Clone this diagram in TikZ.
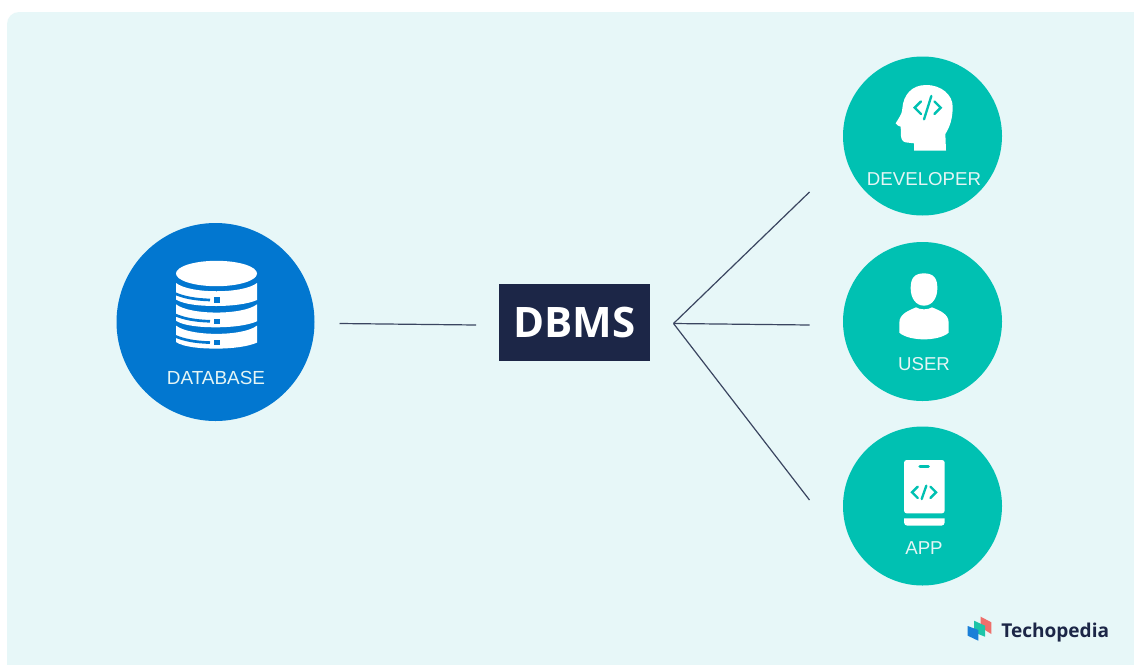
\documentclass[tikz,border=0pt]{standalone}
\usepackage{fontspec}
\setmainfont{Liberation Sans}
\newfontfamily\logofont{Open Sans}
\definecolor{bgc}{HTML}{E7F7F8}
\definecolor{bluec}{HTML}{0277D0}
\definecolor{tealc}{HTML}{00C1B2}
\definecolor{navyc}{HTML}{1C2647}
\definecolor{linec}{HTML}{3A4560}
\definecolor{labc}{HTML}{E4F5F5}
\definecolor{logored}{HTML}{EE6F6B}
\definecolor{logoteal}{HTML}{1CC4A8}
\definecolor{logoblue}{HTML}{1A7FD8}
\tikzset{
  disc/.style={circle,inner sep=0pt,minimum size=#1*0.75pt,draw=none},
  dbdisc/.style={disc=198,fill=bluec},
  usedisc/.style={disc=159,fill=tealc},
  lab/.style={text=labc,font=\fontsize{14pt}{15pt}\selectfont,inner sep=0pt,anchor=base},
  link/.style={draw=linec,line width=0.9pt},
  codemark/.style={draw=tealc,line width=1.75pt,line cap=round,line join=miter},
}
% centre x, centre y, inner half width, chevron half height, slash half height, slash half run
\newcommand{\codeglyph}[6]{%
  \draw[codemark] (#1-#3,#2-#4) -- (#1-#3-#4,#2) -- (#1-#3,#2+#4);
  \draw[codemark] (#1+#3,#2-#4) -- (#1+#3+#4,#2) -- (#1+#3,#2+#4);
  \draw[codemark] (#1+#6,#2-#5) -- (#1-#6,#2+#5);
}
\newcommand{\dbband}[1]{%
  \begin{scope}[yshift=#1*0.75pt*-1]
  \fill[white] (176,283) .. controls (190,294) and (243,294) .. (257,283) -- (257,300)
     .. controls (248,304) and (232,306) .. (216.5,306) .. controls (200,306) and (184,304.5) .. (176,299.5) -- cycle;
  \draw[bluec,line width=2pt] (175,293.5) .. controls (184,297.5) and (195,299.5) .. (210,300);
  \fill[bluec] (214,297.3) rectangle (219.5,302.7);
  \end{scope}
}
\begin{document}
\begin{tikzpicture}[x=0.75pt,y=-0.75pt]
\useasboundingbox (0,0) rectangle (1134,664);
\fill[white] (0,0) rectangle (1134,664);
\fill[bgc,rounded corners=9pt] (7,680) rectangle (1160,12);

\node[dbdisc] (db) at (215.5,322) {};
\node[usedisc] (dev) at (922.5,136) {};
\node[usedisc] (usr) at (922.5,321.5) {};
\node[usedisc] (app) at (922.5,506) {};
\node[fill=navyc,minimum width=151*0.75pt,minimum height=77*0.75pt,inner sep=0pt,text=white,font=\logofont\bfseries\fontsize{31.5pt}{33pt}\selectfont] (dbms) at (574.5,322.5) {DBMS};

% connectors
\coordinate (dbL) at (339.5,323.5);
\coordinate (dbR) at (476,325);
\coordinate (hub) at (673.5,323.5);
\coordinate (tDev) at (809.5,192);
\coordinate (tUsr) at (809.5,325);
\coordinate (tApp) at (809.5,500);
\draw[link] (dbL) -- (dbR);
\draw[link] (hub) -- (tDev);
\draw[link] (hub) -- (tUsr);
\draw[link] (hub) -- (tApp);

% database icon
\dbband{0}\dbband{21.3}\dbband{42.6}
\fill[white] (216.5,273.5) ellipse[x radius=40.5,y radius=12.7];
\node[lab,font=\fontsize{14.2pt}{15pt}\selectfont] (dbt) at (216,384) {DATABASE};

% developer icon
\begin{scope}[shift={(840,55)},x=0.25pt,y=-0.25pt]
\fill[white] (222,287) -- (318,287) -- (316,237) .. controls (330,215) and (338,190) .. (338,155)
  .. controls (338,120) and (305,90) .. (258,90) .. controls (215,90) and (190,120) .. (187,160)
  .. controls (186,172) and (183,180) .. (178,187) -- (167,205) .. controls (170,212) and (178,213) .. (182,215)
  -- (183,245) .. controls (185,258) and (192,263) .. (205,263) -- (222,265) -- cycle;
\codeglyph{263}{158}{20}{19}{35}{11}
\end{scope}
\node[lab] (devt) at (924,185) {DEVELOPER};

% user icon
\begin{scope}[shift={(840,240)},x=0.25pt,y=-0.25pt]
\fill[white] (252,100) .. controls (284,100) and (292,118) .. (292,145) .. controls (292,175) and (276,197) .. (252,197)
  .. controls (228,197) and (212,175) .. (212,145) .. controls (212,118) and (220,100) .. (252,100) -- cycle;
\fill[white] (178,278) -- (178,248) .. controls (178,222) and (205,212) .. (228,202)
  .. controls (240,210) and (264,210) .. (276,202) .. controls (300,212) and (326,222) .. (326,248) -- (326,278)
  .. controls (310,292) and (280,298) .. (252,298) .. controls (224,298) and (194,292) .. (178,278) -- cycle;
\end{scope}
\node[lab] (usrt) at (924,370) {USER};

% app icon
\begin{scope}[shift={(840,425)},x=0.25pt,y=-0.25pt]
\fill[white,rounded corners=2pt] (192,105) rectangle (314,265);
\fill[white] (192,280) -- (314,280) [rounded corners=2.5pt] -- (314,302) -- (192,302) [sharp corners] -- cycle;
\draw[tealc,line width=2.4pt,line cap=round] (240,124) -- (265,124);
\codeglyph{252}{202}{19}{17}{20}{7}
\end{scope}
\node[lab] (appt) at (924,554) {APP};

% logo
\fill[logored] (980.7,616.7) -- (991.3,622.3) -- (991.3,634) -- (980.7,627.3) -- cycle;
\fill[logoteal] (974,620.7) -- (985,625.7) -- (985,636.7) -- (974,632.3) -- cycle;
\fill[logoblue] (967.7,626) -- (978.3,630) -- (978.3,640.7) -- (967.7,635.7) -- cycle;
\node[text=navyc,font=\logofont\bfseries\fontsize{14.3pt}{15pt}\selectfont,inner sep=0pt,anchor=base west] (logo) at (1001,637) {Techopedia};
\end{tikzpicture}
\end{document}
